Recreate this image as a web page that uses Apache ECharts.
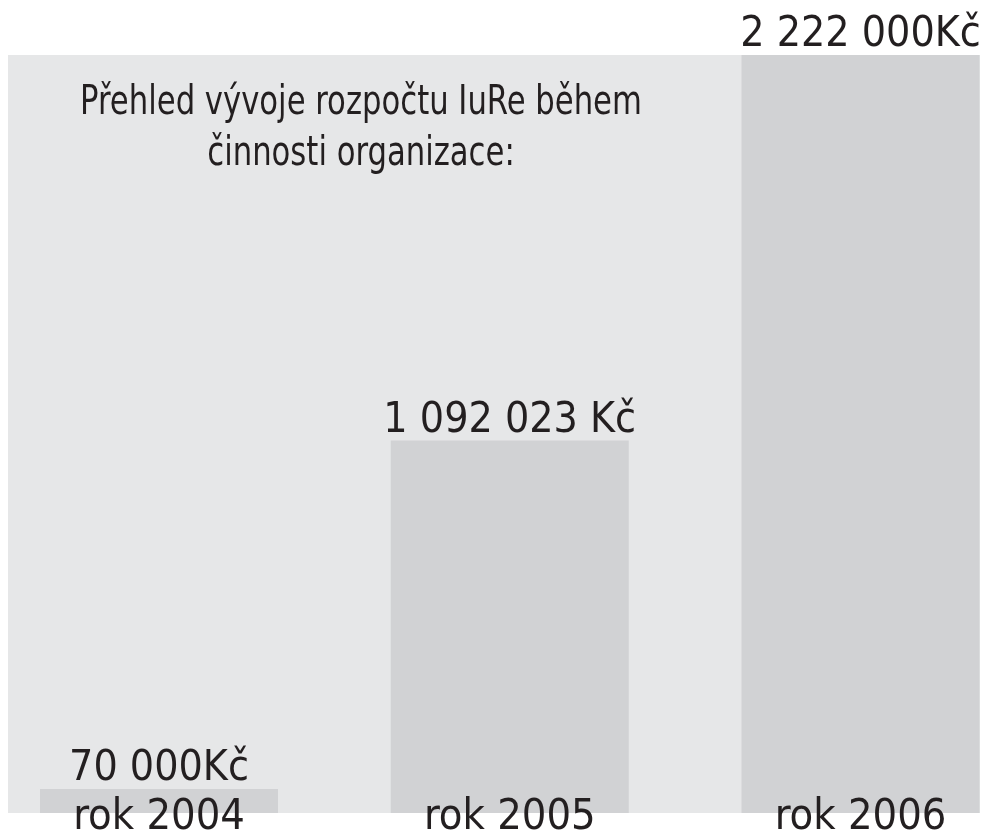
<!DOCTYPE html>
<html>
<head>
<meta charset="utf-8">
<script src="https://cdn.jsdelivr.net/npm/echarts@6/dist/echarts.min.js"></script>
<style>
html,body{margin:0;padding:0;background:#ffffff;}
#chart{width:988px;height:839px;}
</style>
</head>
<body>
<div id="chart"></div>
<script>
const categories = ['rok 2004', 'rok 2005', 'rok 2006'];
const budgets = [70000, 1092023, 2222000];
const valueLabels = ['70 000Kč', '1 092 023 Kč', '2 222 000Kč'];
const titleLines = ['Přehled vývoje rozpočtu IuRe během', 'činnosti organizace:'];

const FONT = '"DejaVu Sans Condensed", "Liberation Sans Narrow", "Liberation Sans", sans-serif';
const chart = echarts.init(document.getElementById('chart'), null, {renderer: 'canvas'});

const barData = budgets.map(function (v, i) { return [i, v]; });

chart.setOption({
  backgroundColor: '#ffffff',
  animation: false,
  graphic: [
    {
      type: 'rect', z: -10, silent: true,
      shape: {x: 8, y: 55, width: 972, height: 758},
      style: {fill: '#e6e7e8'}
    },
    {
      type: 'text', z: 10, silent: true,
      x: 361, y: 78, scaleX: 0.832,
      style: {
        text: titleLines.join('\n'),
        fill: '#231f20',
        font: '41px ' + FONT,
        lineHeight: 51,
        align: 'center',
        verticalAlign: 'top'
      }
    }
  ],
  grid: {left: 8, right: 8, top: 55, bottom: 26, containLabel: false, outerBoundsMode: 'none'},
  xAxis: {
    type: 'value',
    min: -0.4305,
    max: 2.3407,
    splitLine: {show: false},
    axisLine: {show: false},
    axisTick: {show: false},
    axisLabel: {
      customValues: [0, 1, 2],
      formatter: function (v) { return categories[Math.round(v)]; },
      color: '#231f20',
      fontFamily: FONT,
      fontSize: 43,
      margin: -17,
      verticalAlign: 'top'
    },
    z: 10
  },
  yAxis: {
    type: 'value',
    min: 0,
    max: 2222000,
    show: false,
    splitLine: {show: false}
  },
  series: [{
    type: 'bar',
    barWidth: 238,
    data: barData,
    itemStyle: {color: '#d1d2d4'},
    label: {
      show: true,
      position: 'top',
      distance: -1.5,
      color: '#231f20',
      fontFamily: FONT,
      fontSize: 42.5,
      formatter: function (p) { return valueLabels[p.dataIndex]; }
    }
  }]
});
</script>
</body>
</html>
